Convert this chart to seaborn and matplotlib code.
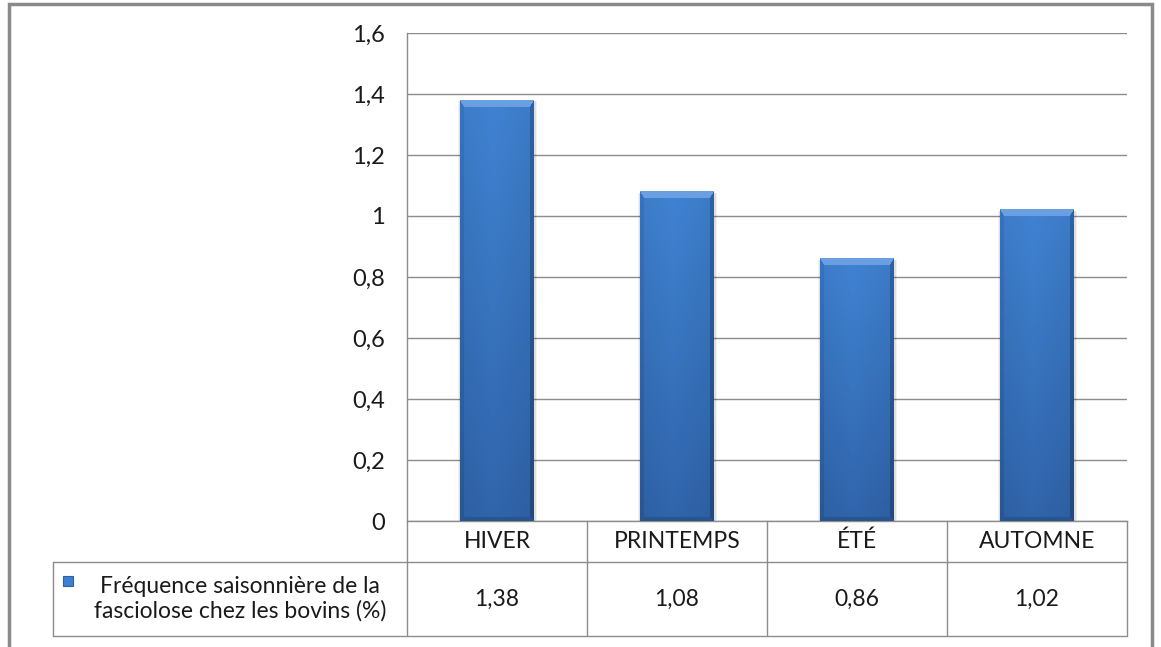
import numpy as np
import pandas as pd
import matplotlib
matplotlib.use("Agg")
import matplotlib.pyplot as plt
from matplotlib.patches import Rectangle
from matplotlib.lines import Line2D
import seaborn as sns

# Seasonal frequency of bovine fasciolosis (%)
seasons = ["HIVER", "PRINTEMPS", "ÉTÉ", "AUTOMNE"]
frequency = [1.38, 1.08, 0.86, 1.02]
series_label = "Fréquence saisonnière de la\nfasciolose chez les bovins (%)"
y_ticks = [0, 0.2, 0.4, 0.6, 0.8, 1.0, 1.2, 1.4, 1.6]

sns.set_theme(style="white")
plt.rcParams["font.family"] = ["Lato", "DejaVu Sans"]

W, H = 1161, 647
fig = plt.figure(figsize=(W / 100, H / 100), dpi=100)
fig.patch.set_facecolor("white")

# plot area in pixel terms
px_left, px_right, px_top, px_bottom = 407, 1127, 33, 521
ax = fig.add_axes([px_left / W, 1 - px_bottom / H,
                   (px_right - px_left) / W, (px_bottom - px_top) / H])

df = pd.DataFrame({"season": seasons, "freq": frequency})
sns.barplot(data=df, x="season", y="freq", color="#3f7fcf", width=0.41,
            ax=ax, zorder=3, saturation=1, edgecolor="none")

ax.set_xlim(-0.5, len(seasons) - 0.5)
ax.set_ylim(0, 1.6)
ax.set_yticks(y_ticks)
ax.set_yticklabels([("%g" % t).replace(".", ",") for t in y_ticks])
ax.set_xticks([])
ax.set_xlabel("")
ax.set_ylabel("")
ax.tick_params(axis="y", length=0, pad=16, labelsize=17, labelcolor="#1a1a1a")
ax.yaxis.grid(True, color="#8c8c8c", linewidth=1.0, zorder=0)
ax.set_axisbelow(True)
for side in ["top", "right"]:
    ax.spines[side].set_visible(False)
for side in ["left", "bottom"]:
    ax.spines[side].set_color("#8c8c8c")
    ax.spines[side].set_linewidth(1.0)


def hex2rgb(h):
    h = h.lstrip("#")
    return np.array([int(h[i:i + 2], 16) for i in (0, 2, 4)]) / 255.0


# bevelled shading for each bar
fig.canvas.draw()
top_c = hex2rgb("#6a9fe2")
left_c = hex2rgb("#3773c0")
right_c = hex2rgb("#2e62a6")
bottom_c = hex2rgb("#28558f")
in_top = hex2rgb("#4083d3")
in_bot = hex2rgb("#3065ab")
for patch in list(ax.patches):
    x0, y0 = patch.get_x(), patch.get_y()
    w, h = patch.get_width(), patch.get_height()
    (p0x, p0y) = ax.transData.transform((x0, y0))
    (p1x, p1y) = ax.transData.transform((x0 + w, y0 + h))
    nw, nh = int(round(p1x - p0x)), int(round(p1y - p0y))
    yy, xx = np.mgrid[0:nh, 0:nw]
    bt, bs = 7.0, 4.0
    # normalised distances so top bevel is deeper than side bevels
    dt = (yy + 0.5) / bt
    db = (nh - yy - 0.5) / bs
    dl = (xx + 0.5) / bs
    dr = (nw - xx - 0.5) / bs
    t = (yy / max(nh - 1, 1))[..., None]
    img = in_top * (1 - t) + in_bot * t
    s = np.abs((xx + 0.5) / nw - 0.45)[..., None]
    img = img * (1 - 0.12 * s)
    dmin = np.minimum(np.minimum(dt, db), np.minimum(dl, dr))
    edge = dmin < 1.0
    which = np.argmin(np.stack([dt, db, dl, dr]), axis=0)
    cols = [top_c, bottom_c, left_c, right_c]
    for k, c in enumerate(cols):
        m = edge & (which == k)
        if k >= 2:
            shade = (1 - t[..., 0] * 0.25)[..., None]
            img[m] = c * shade[m]
        else:
            img[m] = c
    img = np.clip(img, 0, 1)
    # soft shadow around the bar
    for grow, a in [(0.018, 0.05), (0.010, 0.08)]:
        ax.add_patch(Rectangle((x0 - grow * 0.6, y0), w + grow * 1.6,
                               h - 0.004, facecolor="#000000", alpha=a,
                               zorder=2, linewidth=0))
    ax.imshow(img, extent=[x0, x0 + w, y0, y0 + h], aspect="auto",
              zorder=4, interpolation="bilinear")
    patch.set_visible(False)

ax.set_xlim(-0.5, len(seasons) - 0.5)
ax.set_ylim(0, 1.6)

# data table below the plot area
line_c = "#8c8c8c"
row1_bot, row2_bot = 562, 636


def fy(py):
    return 1 - py / H


def fx(px):
    return px / W


def hline(xa, xb, py):
    fig.add_artist(Line2D([fx(xa), fx(xb)], [fy(py), fy(py)], color=line_c,
                          linewidth=1.0, transform=fig.transFigure))


def vline(px, ya, yb):
    fig.add_artist(Line2D([fx(px), fx(px)], [fy(ya), fy(yb)], color=line_c,
                          linewidth=1.0, transform=fig.transFigure))


col_w = (px_right - px_left) / len(seasons)
hline(px_left, px_right, row1_bot)
hline(53, px_right, row2_bot)
hline(53, px_left, row1_bot)
for i in range(len(seasons) + 1):
    vline(px_left + i * col_w, px_bottom, row2_bot)
vline(53, row1_bot, row2_bot)

fs = 16.5
for i, (name, val) in enumerate(zip(seasons, frequency)):
    cx = px_left + (i + 0.5) * col_w
    fig.text(fx(cx), fy((px_bottom + row1_bot) / 2), name, ha="center",
             va="center", fontsize=fs, color="#1a1a1a")
    fig.text(fx(cx), fy((row1_bot + row2_bot) / 2),
             ("%.2f" % val).replace(".", ","), ha="center", va="center",
             fontsize=fs, color="#1a1a1a")

fig.text(fx(240), fy((row1_bot + row2_bot) / 2), series_label, ha="center",
         va="center", fontsize=fs, color="#1a1a1a", linespacing=1.2,
         multialignment="center")
fig.add_artist(Rectangle((fx(63), fy(586)), 10 / W, 10 / H,
                         facecolor="#3f7fcf", edgecolor="#2c5fa3",
                         linewidth=0.8, transform=fig.transFigure))

# outer chart border
fig.add_artist(Rectangle((fx(9), fy(H + 5)), (1152 - 9) / W, (H + 5 - 4) / H,
                         facecolor="none", edgecolor="#8a8a8a", linewidth=2.5,
                         transform=fig.transFigure))

fig.savefig("out.png", dpi=100, facecolor="white")
